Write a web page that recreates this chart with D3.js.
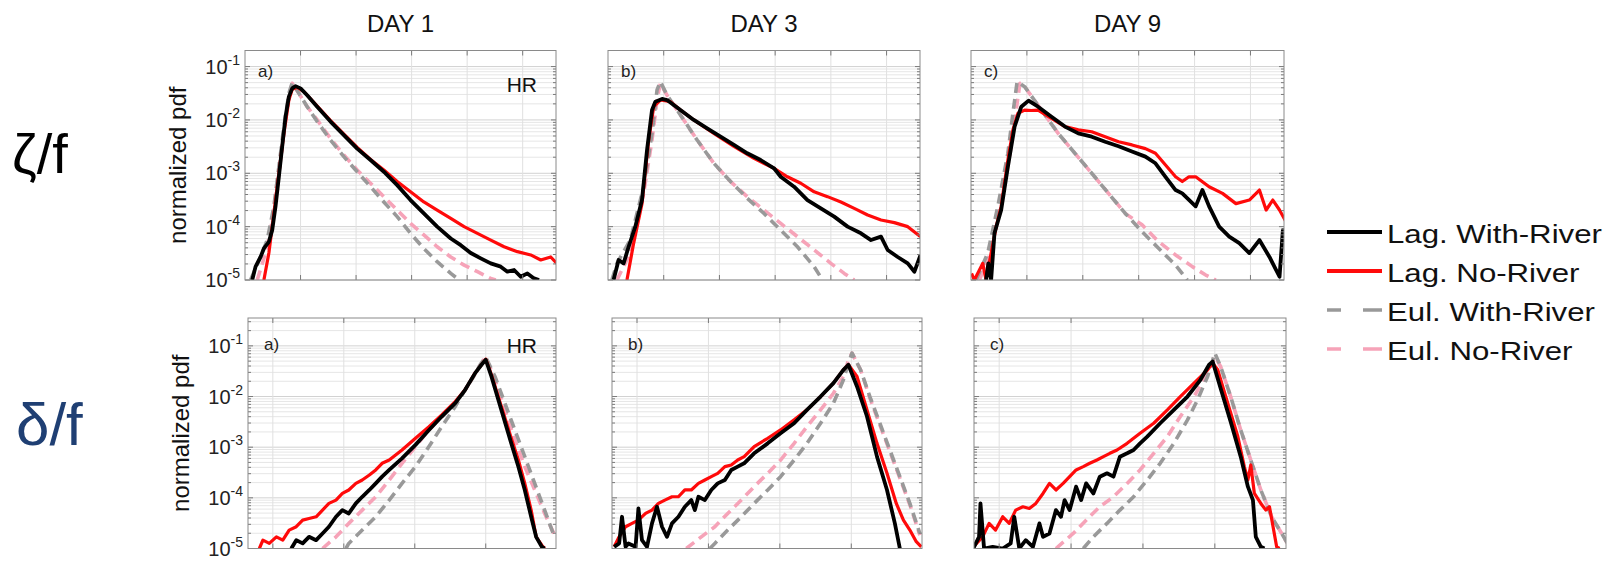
<!DOCTYPE html>
<html>
<head>
<meta charset="utf-8">
<script src="https://cdn.jsdelivr.net/npm/d3@7"></script>
<style>
  body { margin: 0; background: #fff; }
  svg { display: block; }
  text { font-family: "Liberation Sans", Arial, Helvetica, sans-serif; }
</style>
</head>
<body>
<svg id="chart" width="1614" height="565"></svg>
<script>
// ---- labels -------------------------------------------------------------
const dayTitles = ["DAY 1", "DAY 3", "DAY 9"];
const panelTags = ["a)", "b)", "c)"];
const seriesNames = ["Lag. With-River", "Lag. No-River", "Eul. With-River", "Eul. No-River"];
const rowNames = ["ζ/f", "δ/f"];
const yTickExponents = [-1, -2, -3, -4, -5];
const zetaTicks = [0, 2, 4, 6, 8];
const deltaTicks = [-3, -2, -1, 0];

// ---- relative vorticity  ζ/f : [ζ/f, normalized pdf] ------------------------
const zetaDay1LagRiver = [[-1.74,1.0e-5],[-1.62,1.78e-5],[-1.44,2.7e-5],[-1.32,3.9e-5],[-1.14,5.2e-5],[-1.02,8.6e-5],[-0.90,2.4e-4],[-0.78,8.6e-4],[-0.66,3.2e-3],[-0.54,1.15e-2],[-0.42,2.73e-2],[-0.30,3.9e-2],[-0.18,4.3e-2],[0.00,3.9e-2],[0.24,2.9e-2],[0.60,1.77e-2],[1.08,9.3e-3],[1.56,5.2e-3],[2.04,2.9e-3],[2.52,1.77e-3],[3.00,1.07e-3],[3.48,6.0e-4],[3.96,3.15e-4],[4.44,1.77e-4],[4.92,1.0e-4],[5.41,6.0e-5],[5.77,4.5e-5],[6.13,3.2e-5],[6.49,2.55e-5],[6.85,2.05e-5],[7.21,1.78e-5],[7.45,1.43e-5],[7.69,1.54e-5],[7.93,1.15e-5],[8.17,1.33e-5],[8.41,1.07e-5],[8.59,1.0e-5]];
const zetaDay1LagNoRiver = [[-1.32,1.0e-5],[-1.14,3.2e-5],[-0.96,1.77e-4],[-0.78,1.0e-3],[-0.60,5.6e-3],[-0.42,2.36e-2],[-0.30,3.74e-2],[-0.12,4.1e-2],[0.12,3.39e-2],[0.60,1.82e-2],[1.08,9.7e-3],[1.56,5.4e-3],[2.04,3.06e-3],[2.52,1.82e-3],[3.00,1.15e-3],[3.48,7.0e-4],[3.96,4.5e-4],[4.44,2.9e-4],[4.92,2.05e-4],[5.41,1.43e-4],[5.89,1.0e-4],[6.37,7.5e-5],[6.85,5.6e-5],[7.33,4.2e-5],[7.81,3.4e-5],[8.29,2.95e-5],[8.65,2.37e-5],[9.01,2.7e-5],[9.23,2.05e-5]];
const zetaDay1EulRiver = [[-1.80,1.0e-5],[-1.44,2.7e-5],[-1.20,5.6e-5],[-0.96,2.4e-4],[-0.78,1.33e-3],[-0.60,7.5e-3],[-0.42,3.15e-2],[-0.30,5.0e-2],[-0.06,3.15e-2],[0.24,1.77e-2],[0.60,9.3e-3],[1.08,4.2e-3],[1.56,2.05e-3],[2.04,1.07e-3],[2.52,5.6e-4],[3.00,2.9e-4],[3.48,1.54e-4],[3.96,7.5e-5],[4.44,3.9e-5],[4.92,2.2e-5],[5.41,1.33e-5],[5.71,1.0e-5]];
const zetaDay1EulNoRiver = [[-1.56,1.0e-5],[-1.26,3.2e-5],[-0.96,1.77e-4],[-0.78,1.0e-3],[-0.60,5.6e-3],[-0.42,2.73e-2],[-0.30,4.85e-2],[-0.06,3.15e-2],[0.24,1.77e-2],[0.60,1.0e-2],[1.08,4.5e-3],[1.56,2.2e-3],[2.04,1.15e-3],[2.52,6.5e-4],[3.00,3.65e-4],[3.48,2.05e-4],[3.96,1.15e-4],[4.44,7.0e-5],[4.92,4.2e-5],[5.41,2.7e-5],[5.89,1.9e-5],[6.37,1.43e-5],[6.85,1.07e-5],[7.03,1.0e-5]];

const zetaDay3LagRiver = [[-1.80,1.0e-5],[-1.62,2.37e-5],[-1.44,2.05e-5],[-1.26,4.2e-5],[-1.02,1.0e-4],[-0.78,3.15e-4],[-0.60,2.7e-3],[-0.42,1.53e-2],[-0.30,2.2e-2],[-0.06,2.47e-2],[0.12,2.36e-2],[0.60,1.53e-2],[1.08,1.0e-2],[1.56,6.95e-3],[2.04,4.85e-3],[2.52,3.4e-3],[3.00,2.37e-3],[3.48,1.77e-3],[3.96,1.24e-3],[4.20,8.6e-4],[4.68,5.6e-4],[5.16,3.15e-4],[5.64,2.2e-4],[6.12,1.54e-4],[6.60,1.0e-4],[7.08,7.5e-5],[7.44,5.6e-5],[7.80,6.5e-5],[8.04,3.65e-5],[8.40,2.7e-5],[8.76,2.05e-5],[9.00,1.43e-5],[9.22,2.95e-5]];
const zetaDay3LagNoRiver = [[-1.32,1.0e-5],[-1.08,4.87e-5],[-0.78,2.7e-4],[-0.54,4.2e-3],[-0.36,1.77e-2],[-0.12,2.36e-2],[0.24,2.2e-2],[0.60,1.53e-2],[1.08,1.0e-2],[1.80,5.6e-3],[2.52,3.2e-3],[3.24,1.9e-3],[3.96,1.24e-3],[4.44,8.6e-4],[4.92,6.5e-4],[5.40,4.5e-4],[5.88,3.65e-4],[6.36,2.9e-4],[6.84,2.2e-4],[7.32,1.65e-4],[7.80,1.33e-4],[8.28,1.19e-4],[8.76,1.0e-4],[9.22,6.5e-5]];
const zetaDay3EulRiver = [[-1.86,1.0e-5],[-1.68,2.05e-5],[-1.20,5.6e-5],[-0.72,5.6e-4],[-0.42,5.6e-3],[-0.24,3.64e-2],[-0.12,5.2e-2],[0.12,2.9e-2],[0.60,1.24e-2],[1.20,4.2e-3],[1.80,1.54e-3],[2.40,7.0e-4],[3.00,3.4e-4],[3.60,1.77e-4],[4.20,8.6e-5],[4.80,4.2e-5],[5.40,1.78e-5],[5.70,1.0e-5]];
const zetaDay3EulNoRiver = [[-1.68,1.0e-5],[-1.20,3.2e-5],[-0.72,4.2e-4],[-0.42,4.2e-3],[-0.24,2.36e-2],[-0.12,4.85e-2],[0.12,2.9e-2],[0.60,1.24e-2],[1.20,4.2e-3],[1.80,1.54e-3],[2.40,7.0e-4],[3.00,3.65e-4],[3.60,2.05e-4],[4.20,1.15e-4],[4.80,6.5e-5],[5.40,3.65e-5],[6.00,2.05e-5],[6.48,1.33e-5],[6.84,1.0e-5]];

const zetaDay9LagRiver = [[-1.46,1.0e-5],[-1.38,2.05e-5],[-1.28,1.0e-5],[-1.16,7.5e-5],[-0.92,2.05e-4],[-0.68,1.33e-3],[-0.44,7.5e-3],[-0.20,1.77e-2],[0.06,2.3e-2],[0.40,1.77e-2],[0.88,1.15e-2],[1.36,7.5e-3],[1.84,5.6e-3],[2.32,4.85e-3],[2.80,3.9e-3],[3.28,3.2e-3],[3.76,2.55e-3],[4.24,2.05e-3],[4.60,1.54e-3],[4.96,8.6e-4],[5.32,4.85e-4],[5.56,4.2e-4],[6.04,2.4e-4],[6.28,4.85e-4],[6.52,2.4e-4],[6.88,1.0e-4],[7.24,6.5e-5],[7.60,4.9e-5],[7.96,3.2e-5],[8.32,5.6e-5],[8.68,2.7e-5],[9.04,1.15e-5],[9.16,8.6e-5],[9.30,4.2e-5]];
const zetaDay9LagNoRiver = [[-1.98,1.33e-5],[-1.88,1.0e-5],[-1.58,2.05e-5],[-1.46,1.0e-5],[-1.28,3.2e-5],[-1.10,1.0e-4],[-0.92,2.4e-4],[-0.68,1.77e-3],[-0.50,6.5e-3],[-0.32,1.33e-2],[-0.08,1.53e-2],[0.16,1.5e-2],[0.40,1.53e-2],[0.88,1.07e-2],[1.36,7.5e-3],[1.84,6.5e-3],[2.32,6.0e-3],[2.80,4.85e-3],[3.28,3.9e-3],[3.76,3.4e-3],[4.24,2.9e-3],[4.60,2.37e-3],[4.96,1.43e-3],[5.32,8.6e-4],[5.56,7.0e-4],[5.80,8.6e-4],[6.04,8.6e-4],[6.52,5.6e-4],[7.00,4.2e-4],[7.48,2.7e-4],[7.96,3.15e-4],[8.32,4.85e-4],[8.56,2.05e-4],[8.80,3.15e-4],[9.04,2.05e-4],[9.30,1.15e-4]];
const zetaDay9EulRiver = [[-1.82,1.0e-5],[-1.40,3.2e-5],[-1.04,2.4e-4],[-0.68,2.37e-3],[-0.50,1.33e-2],[-0.35,5.2e-2],[-0.08,4.2e-2],[0.52,1.53e-2],[1.12,5.6e-3],[1.72,2.37e-3],[2.32,1.0e-3],[2.92,4.2e-4],[3.52,1.77e-4],[4.12,8.05e-5],[4.72,3.9e-5],[5.32,1.9e-5],[5.74,1.0e-5]];
const zetaDay9EulNoRiver = [[-1.70,1.0e-5],[-1.30,3.2e-5],[-0.95,2.4e-4],[-0.60,2.37e-3],[-0.40,1.33e-2],[-0.25,4.85e-2],[-0.08,4.2e-2],[0.52,1.53e-2],[1.12,5.6e-3],[1.72,2.37e-3],[2.32,1.0e-3],[2.92,4.2e-4],[3.52,1.77e-4],[4.12,1.08e-4],[4.72,5.2e-5],[5.32,2.95e-5],[5.92,1.78e-5],[6.40,1.24e-5],[6.76,1.0e-5]];

// ---- divergence  δ/f : [δ/f, normalized pdf] --------------------------------
const deltaDay1LagRiver = [[-2.74,1.0e-5],[-2.67,1.46e-5],[-2.58,1.26e-5],[-2.49,1.70e-5],[-2.39,1.46e-5],[-2.30,1.98e-5],[-2.21,2.69e-5],[-2.11,4.23e-5],[-2.02,5.73e-5],[-1.93,4.92e-5],[-1.83,7.76e-5],[-1.74,1.05e-4],[-1.64,1.43e-4],[-1.55,1.93e-4],[-1.46,2.62e-4],[-1.36,3.55e-4],[-1.18,6.03e-4],[-0.99,1.11e-3],[-0.80,2.19e-3],[-0.62,4.03e-3],[-0.43,7.38e-3],[-0.29,1.36e-2],[-0.15,2.90e-2],[-0.06,4.24e-2],[0.00,5.32e-2],[0.08,2.49e-2],[0.22,5.46e-3],[0.36,1.19e-3],[0.46,4.13e-4],[0.55,1.43e-4],[0.64,4.23e-5],[0.71,1.70e-5],[0.79,1.08e-5],[0.83,1.0e-5]];
const deltaDay1LagNoRiver = [[-3.19,1.0e-5],[-3.14,1.46e-5],[-3.05,1.26e-5],[-2.95,1.70e-5],[-2.86,1.46e-5],[-2.77,2.31e-5],[-2.67,2.69e-5],[-2.58,3.63e-5],[-2.49,3.92e-5],[-2.39,4.23e-5],[-2.30,5.73e-5],[-2.21,7.76e-5],[-2.11,9.03e-5],[-2.02,1.22e-4],[-1.93,1.43e-4],[-1.83,1.93e-4],[-1.74,2.25e-4],[-1.64,2.82e-4],[-1.55,3.55e-4],[-1.46,4.81e-4],[-1.36,5.58e-4],[-1.18,8.81e-4],[-0.99,1.50e-3],[-0.80,2.55e-3],[-0.62,4.35e-3],[-0.43,7.96e-3],[-0.29,1.36e-2],[-0.15,2.90e-2],[-0.06,4.24e-2],[0.00,5.48e-2],[0.08,2.69e-2],[0.22,6.35e-3],[0.36,1.50e-3],[0.46,5.58e-4],[0.55,1.93e-4],[0.64,5.73e-5],[0.71,1.70e-5],[0.79,1.16e-5],[0.83,1.0e-5]];
const deltaDay1EulRiver = [[-1.97,1.0e-5],[-1.93,1.26e-5],[-1.74,2.31e-5],[-1.55,4.23e-5],[-1.36,9.03e-5],[-1.18,1.93e-4],[-0.99,4.13e-4],[-0.80,1.03e-3],[-0.62,2.55e-3],[-0.43,6.35e-3],[-0.29,1.36e-2],[-0.17,2.49e-2],[-0.08,4.24e-2],[0.00,6.0e-2],[0.13,2.49e-2],[0.27,7.38e-3],[0.41,2.19e-3],[0.55,6.5e-4],[0.69,1.93e-4],[0.83,5.73e-5],[0.95,1.98e-5]];
const deltaDay1EulNoRiver = [[-2.30,1.0e-5],[-2.11,1.70e-5],[-1.93,3.13e-5],[-1.74,5.73e-5],[-1.55,1.05e-4],[-1.36,2.25e-4],[-1.18,4.81e-4],[-0.99,1.03e-3],[-0.80,2.19e-3],[-0.62,4.03e-3],[-0.43,7.38e-3],[-0.29,1.36e-2],[-0.15,2.90e-2],[-0.06,4.57e-2],[0.00,6.0e-2],[0.13,2.14e-2],[0.27,5.46e-3],[0.41,1.39e-3],[0.55,4.13e-4],[0.69,1.43e-4],[0.83,4.92e-5],[0.96,1.98e-5]];

const deltaDay3LagRiver = [[-3.32,1.08e-5],[-3.25,1.26e-5],[-3.21,4.23e-5],[-3.16,1.08e-5],[-3.12,1.26e-5],[-3.02,1.08e-5],[-2.98,6.18e-5],[-2.93,1.46e-5],[-2.86,1.08e-5],[-2.79,3.13e-5],[-2.72,6.67e-5],[-2.65,2.69e-5],[-2.58,1.70e-5],[-2.51,3.13e-5],[-2.42,4.23e-5],[-2.33,6.67e-5],[-2.24,9.03e-5],[-2.19,5.73e-5],[-2.14,1.05e-4],[-2.05,9.03e-5],[-1.96,1.43e-4],[-1.87,1.93e-4],[-1.77,2.25e-4],[-1.68,3.55e-4],[-1.59,4.13e-4],[-1.50,4.81e-4],[-1.36,7.57e-4],[-1.17,1.19e-3],[-0.99,1.88e-3],[-0.80,2.97e-3],[-0.62,5.46e-3],[-0.43,1.0e-2],[-0.25,1.84e-2],[-0.11,3.37e-2],[-0.04,4.24e-2],[0.08,1.58e-2],[0.22,4.03e-3],[0.36,6.5e-4],[0.50,1.43e-4],[0.61,3.13e-5],[0.68,1.0e-5]];
const deltaDay3LagNoRiver = [[-3.32,1.08e-5],[-3.25,1.70e-5],[-3.16,2.69e-5],[-3.07,3.13e-5],[-2.98,3.63e-5],[-2.88,4.92e-5],[-2.79,5.73e-5],[-2.70,7.76e-5],[-2.61,9.03e-5],[-2.51,1.05e-4],[-2.42,1.05e-4],[-2.33,1.43e-4],[-2.24,1.43e-4],[-2.14,1.93e-4],[-2.05,2.25e-4],[-1.96,2.62e-4],[-1.87,3.05e-4],[-1.77,4.13e-4],[-1.68,4.46e-4],[-1.59,5.58e-4],[-1.50,6.5e-4],[-1.36,1.03e-3],[-1.17,1.50e-3],[-0.99,2.19e-3],[-0.80,3.46e-3],[-0.62,5.46e-3],[-0.43,1.0e-2],[-0.25,1.84e-2],[-0.11,3.37e-2],[-0.04,4.24e-2],[0.08,2.49e-2],[0.22,5.46e-3],[0.36,1.19e-3],[0.50,3.05e-4],[0.63,7.76e-5],[0.73,3.63e-5],[0.82,2.31e-5],[0.91,1.36e-5],[0.98,1.08e-5]];
const deltaDay3EulRiver = [[-1.98,1.0e-5],[-1.91,1.26e-5],[-1.73,2.31e-5],[-1.54,4.23e-5],[-1.36,7.76e-5],[-1.17,1.43e-4],[-0.99,2.62e-4],[-0.80,5.58e-4],[-0.62,1.19e-3],[-0.43,2.97e-3],[-0.25,7.38e-3],[-0.11,2.14e-2],[-0.04,4.57e-2],[0.01,7.2e-2],[0.13,3.37e-2],[0.26,1.0e-2],[0.40,2.97e-3],[0.54,8.81e-4],[0.68,2.62e-4],[0.82,7.76e-5],[0.96,1.98e-5]];
const deltaDay3EulNoRiver = [[-2.31,1.0e-5],[-2.10,1.70e-5],[-1.91,2.69e-5],[-1.73,4.92e-5],[-1.54,9.03e-5],[-1.36,1.66e-4],[-1.17,3.05e-4],[-0.99,5.58e-4],[-0.80,1.19e-3],[-0.62,2.55e-3],[-0.43,5.46e-3],[-0.25,1.16e-2],[-0.11,2.49e-2],[-0.04,5.32e-2],[0.01,7.2e-2],[0.13,3.37e-2],[0.26,9.3e-3],[0.40,2.75e-3],[0.54,8.2e-4],[0.68,2.45e-4],[0.82,7.3e-5],[0.96,1.84e-5]];

const deltaDay9LagRiver = [[-3.36,1.0e-5],[-3.28,1.70e-5],[-3.26,7.76e-5],[-3.21,1.0e-5],[-3.09,1.08e-5],[-2.95,1.0e-5],[-2.84,1.26e-5],[-2.79,4.23e-5],[-2.72,1.0e-5],[-2.63,1.46e-5],[-2.53,1.08e-5],[-2.44,3.13e-5],[-2.39,1.70e-5],[-2.30,1.98e-5],[-2.21,5.73e-5],[-2.14,4.23e-5],[-2.09,9.03e-5],[-2.02,5.73e-5],[-1.93,1.66e-4],[-1.86,9.03e-5],[-1.79,1.93e-4],[-1.69,1.22e-4],[-1.60,2.62e-4],[-1.50,3.05e-4],[-1.41,2.62e-4],[-1.32,6.5e-4],[-1.22,7.57e-4],[-1.13,8.81e-4],[-1.04,1.19e-3],[-0.94,1.62e-3],[-0.76,2.97e-3],[-0.57,5.46e-3],[-0.38,1.0e-2],[-0.20,2.14e-2],[-0.08,4.24e-2],[-0.03,4.9e-2],[0.08,1.46e-2],[0.22,3.2e-3],[0.36,6.5e-4],[0.46,1.66e-4],[0.53,9.03e-5],[0.57,1.70e-5],[0.64,1.08e-5],[0.69,1.0e-5]];
const deltaDay9LagNoRiver = [[-3.36,1.08e-5],[-3.23,1.70e-5],[-3.14,3.13e-5],[-3.05,2.31e-5],[-2.95,4.23e-5],[-2.86,3.13e-5],[-2.77,5.73e-5],[-2.67,6.67e-5],[-2.58,6.18e-5],[-2.49,7.76e-5],[-2.39,1.22e-4],[-2.30,1.93e-4],[-2.21,1.43e-4],[-2.11,1.93e-4],[-2.02,2.62e-4],[-1.93,3.55e-4],[-1.83,4.13e-4],[-1.74,4.81e-4],[-1.64,5.58e-4],[-1.55,6.5e-4],[-1.46,7.57e-4],[-1.36,8.81e-4],[-1.22,1.19e-3],[-1.04,1.88e-3],[-0.85,2.97e-3],[-0.66,5.46e-3],[-0.48,1.0e-2],[-0.29,1.84e-2],[-0.10,3.37e-2],[-0.03,4.57e-2],[0.04,3.37e-2],[0.18,7.38e-3],[0.32,1.62e-3],[0.41,4.13e-4],[0.46,2.25e-4],[0.50,4.46e-4],[0.55,1.22e-4],[0.64,7.76e-5],[0.71,5.73e-5],[0.76,6.67e-5],[0.81,2.69e-5],[0.86,1.08e-5],[0.90,1.0e-5]];
const deltaDay9EulRiver = [[-1.83,1.0e-5],[-1.69,1.70e-5],[-1.50,3.13e-5],[-1.32,5.73e-5],[-1.13,1.05e-4],[-0.94,2.25e-4],[-0.76,4.81e-4],[-0.57,1.19e-3],[-0.38,3.46e-3],[-0.24,8.6e-3],[-0.10,2.49e-2],[0.00,7.2e-2],[0.08,3.93e-2],[0.22,1.0e-2],[0.36,2.19e-3],[0.50,5.58e-4],[0.64,1.43e-4],[0.79,4.23e-5],[0.93,1.98e-5],[1.01,1.26e-5]];
const deltaDay9EulNoRiver = [[-2.21,1.0e-5],[-1.97,1.98e-5],[-1.79,3.63e-5],[-1.60,6.67e-5],[-1.41,1.05e-4],[-1.22,1.93e-4],[-1.04,3.55e-4],[-0.85,7.57e-4],[-0.66,1.62e-3],[-0.48,4.03e-3],[-0.29,1.0e-2],[-0.10,2.90e-2],[0.00,6.18e-2],[0.08,3.93e-2],[0.22,1.0e-2],[0.36,2.19e-3],[0.50,5.58e-4],[0.64,1.43e-4],[0.79,4.23e-5],[0.93,1.98e-5],[1.01,1.26e-5]];

// series order inside each panel follows seriesNames
const zetaPanels = [
  [zetaDay1LagRiver, zetaDay1LagNoRiver, zetaDay1EulRiver, zetaDay1EulNoRiver],
  [zetaDay3LagRiver, zetaDay3LagNoRiver, zetaDay3EulRiver, zetaDay3EulNoRiver],
  [zetaDay9LagRiver, zetaDay9LagNoRiver, zetaDay9EulRiver, zetaDay9EulNoRiver]
];
const deltaPanels = [
  [deltaDay1LagRiver, deltaDay1LagNoRiver, deltaDay1EulRiver, deltaDay1EulNoRiver],
  [deltaDay3LagRiver, deltaDay3LagNoRiver, deltaDay3EulRiver, deltaDay3EulNoRiver],
  [deltaDay9LagRiver, deltaDay9LagNoRiver, deltaDay9EulRiver, deltaDay9EulNoRiver]
];

// ---- styling ------------------------------------------------------------
const seriesStyle = [
  { color: "#000000", width: 3.8, dash: null },
  { color: "#ff0a0a", width: 3.2, dash: null },
  { color: "#999999", width: 3.6, dash: "10,6" },
  { color: "#f6a3b8", width: 3.6, dash: "10,6" }
];
const drawOrder = [3, 2, 1, 0];

const rows = [
  { panels: zetaPanels, top: 50.5, bottom: 280, xDomain: [-2, 9.2], yDomain: [1e-5, 0.2],
    xTicks: zetaTicks, lefts: [245, 608, 971], rights: [556, 920, 1284],
    tagDy: 26, tagDx: 13, hrDy: 41.5 },
  { panels: deltaPanels, top: 318, bottom: 548.5, xDomain: [-3.35, 0.99], yDomain: [1e-5, 0.355],
    xTicks: deltaTicks, lefts: [248, 612, 974], rights: [556, 922, 1286],
    tagDy: 32, tagDx: 16, hrDy: 35 }
];

const svg = d3.select("#chart");
svg.append("rect").attr("width", 1614).attr("height", 565).attr("fill", "#ffffff");
const defs = svg.append("defs");

// column titles
dayTitles.forEach((t, i) => {
  const cx = (rows[0].lefts[i] + rows[0].rights[i]) / 2;
  svg.append("text").attr("x", cx).attr("y", 32).attr("text-anchor", "middle")
    .attr("font-size", 24).attr("fill", "#111").text(t);
});

// row labels
svg.append("text").attr("x", 12).attr("y", 173)
  .attr("font-family", "'DejaVu Sans Condensed','Liberation Sans Narrow',sans-serif")
  .attr("font-size", 56).attr("fill", "#000").text(rowNames[0]);
svg.append("text").attr("x", 16).attr("y", 445)
  .attr("font-family", "'Open Sans','Noto Sans',sans-serif")
  .attr("font-size", 60).attr("fill", "#1f3f73").text(rowNames[1]);

rows.forEach((row, r) => {
  row.panels.forEach((series, c) => {
    const left = row.lefts[c], right = row.rights[c];
    const x = d3.scaleLinear().domain(row.xDomain).range([left, right]);
    const y = d3.scaleLog().domain(row.yDomain).range([row.bottom, row.top]);
    const g = svg.append("g");

    // log grid values
    const gridVals = [];
    for (let e = -5; e <= 0; e++) {
      for (let m = 1; m <= 9; m++) {
        const v = m * Math.pow(10, e);
        if (v >= row.yDomain[0] && v <= row.yDomain[1]) gridVals.push({ v, major: m === 1 });
      }
    }
    g.selectAll(".hg").data(gridVals).join("line")
      .attr("x1", left).attr("x2", right)
      .attr("y1", d => y(d.v)).attr("y2", d => y(d.v))
      .attr("stroke", d => d.major ? "#d2d2d2" : "#e6e6e6").attr("stroke-width", 1);
    g.selectAll(".vg").data(row.xTicks).join("line")
      .attr("x1", d => x(d)).attr("x2", d => x(d))
      .attr("y1", row.top).attr("y2", row.bottom)
      .attr("stroke", "#e0e0e0").attr("stroke-width", 1);

    // curves
    const clipId = `clip-${r}-${c}`;
    defs.append("clipPath").attr("id", clipId).append("rect")
      .attr("x", left).attr("y", row.top).attr("width", right - left).attr("height", row.bottom - row.top);
    const line = d3.line().x(d => x(d[0])).y(d => y(d[1]));
    const cg = g.append("g").attr("clip-path", `url(#${clipId})`);
    drawOrder.forEach(k => {
      const s = seriesStyle[k];
      cg.append("path").datum(series[k]).attr("d", line)
        .attr("fill", "none").attr("stroke", s.color).attr("stroke-width", s.width)
        .attr("stroke-linejoin", "round").attr("stroke-dasharray", s.dash);
    });

    // ticks (inward, all four sides)
    const tk = g.append("g").attr("stroke", "#7a7a7a").attr("stroke-width", 1);
    gridVals.forEach(d => {
      const len = d.major ? 5 : 3, yy = y(d.v);
      tk.append("line").attr("x1", left).attr("x2", left + len).attr("y1", yy).attr("y2", yy);
      tk.append("line").attr("x1", right).attr("x2", right - len).attr("y1", yy).attr("y2", yy);
    });
    row.xTicks.forEach(t => {
      const xx = x(t);
      tk.append("line").attr("x1", xx).attr("x2", xx).attr("y1", row.top).attr("y2", row.top + 5);
      tk.append("line").attr("x1", xx).attr("x2", xx).attr("y1", row.bottom).attr("y2", row.bottom - 5);
    });

    // frame
    g.append("rect").attr("x", left).attr("y", row.top)
      .attr("width", right - left).attr("height", row.bottom - row.top)
      .attr("fill", "none").attr("stroke", "#8a8a8a").attr("stroke-width", 1);

    // panel tag and resolution mark
    g.append("text").attr("x", left + row.tagDx).attr("y", row.top + row.tagDy)
      .attr("font-size", 17).attr("fill", "#222").text(panelTags[c]);
    if (c === 0) {
      g.append("text").attr("x", right - 19).attr("y", row.top + row.hrDy)
        .attr("text-anchor", "end").attr("font-size", 21).attr("fill", "#111").text("HR");

      // y tick labels 10^k
      yTickExponents.forEach(e => {
        const t = g.append("text").attr("x", left - 5).attr("y", y(Math.pow(10, e)) + 7)
          .attr("text-anchor", "end").attr("font-size", 20).attr("fill", "#222");
        t.append("tspan").text("10");
        t.append("tspan").attr("dy", -9).attr("font-size", 14).text(e);
      });
      g.append("text")
        .attr("transform", `translate(${left - 59},${(row.top + row.bottom) / 2}) rotate(-90)`)
        .attr("text-anchor", "middle").attr("font-size", 24).attr("fill", "#111")
        .text("normalized pdf");
    }
  });
});

// legend
const legend = svg.append("g");
seriesNames.forEach((name, i) => {
  const base = 243 + i * 39;
  const s = seriesStyle[i];
  legend.append("line").attr("x1", 1327).attr("x2", 1382)
    .attr("y1", base - 11).attr("y2", base - 11)
    .attr("stroke", s.color).attr("stroke-width", s.dash ? 3.6 : 4)
    .attr("stroke-dasharray", s.dash ? "14,22,19" : null);
  legend.append("text").attr("transform", `translate(1387,${base}) scale(1.2,1)`)
    .attr("font-size", 26).attr("fill", "#111").text(name);
});
</script>
